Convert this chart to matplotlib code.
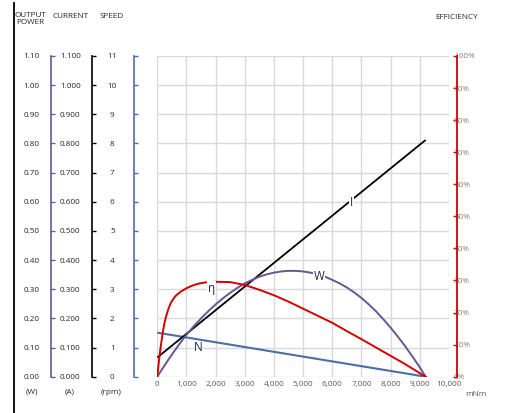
import matplotlib
matplotlib.use("Agg")
import matplotlib.pyplot as plt
from matplotlib.lines import Line2D
from matplotlib.ticker import FuncFormatter, MultipleLocator

plt.rcParams['font.family'] = ['Open Sans', 'DejaVu Sans']

# ---------------- data ----------------
power_torque = [0, 250, 500, 750, 1000, 1250, 1500, 1750, 2000, 2250, 2500, 2750,
                3000, 3250, 3500, 3750, 4000, 4250, 4500, 4750, 5000, 5250, 5500,
                5750, 6000, 6250, 6500, 6750, 7000, 7250, 7500, 7750, 8000, 8250,
                8500, 8750, 9000, 9200]
power_w = [0, 0.039, 0.076, 0.111, 0.144, 0.173, 0.200, 0.225, 0.248, 0.269, 0.288, 0.305,
           0.320, 0.332, 0.343, 0.351, 0.357, 0.361, 0.363, 0.363, 0.361, 0.357, 0.351,
           0.343, 0.332, 0.320, 0.306, 0.289, 0.270, 0.248, 0.224, 0.197, 0.168, 0.137,
           0.104, 0.069, 0.032, 0]

eff_torque = [0, 25, 50, 75, 100, 150, 200, 250, 300, 375, 450, 550, 650, 800, 1000,
              1200, 1400, 1650, 2000, 2500, 3000, 3500, 4000, 4500, 5000, 5500, 6000,
              6500, 7000, 7500, 8000, 8500, 9000, 9200]
eff_pct = [0, 2.3, 4.4, 6.4, 8.2, 11.5, 14.5, 16.9, 18.8, 21.0, 22.8, 24.3, 25.4, 26.5, 27.6,
           28.4, 29.0, 29.4, 29.6, 29.5, 28.6, 27.1, 25.4, 23.4, 21.2, 19.0, 16.8,
           14.2, 11.7, 9.1, 6.5, 3.9, 1.1, 0]

current_torque = [0, 9200]
current_a = [0.066, 0.812]

speed_torque = [0, 9200]
speed_rpm = [1.51, 0.0]

x_ticks = [0, 1000, 2000, 3000, 4000, 5000, 6000, 7000, 8000, 9000, 10000]

# ---------------- style ----------------
C_BLUE = '#4a6fa3'
C_PURPLE = '#6b5591'
C_RED = '#d40000'
C_BLACK = '#000000'
TXT = '#262626'
FS = 5.9

W, H = 510, 413
def fx(px):
    return px / W
def fy(py):
    return 1 - py / H
def pt(px):
    return px * 0.72

fig = plt.figure(figsize=(5.10, 4.13), dpi=100)
x0, x1, ytop, ybot = 157.3, 449.0, 56.0, 376.7
ax = fig.add_axes([fx(x0), fy(ybot), (x1 - x0) / W, (ybot - ytop) / H])
ax_i = ax.twinx()
ax_p = ax.twinx()
ax_e = ax.twinx()

for a in (ax, ax_i, ax_p, ax_e):
    for s in a.spines.values():
        s.set_visible(False)

ax.set_xlim(0, 10000)
ax.set_xticks(x_ticks)
ax.xaxis.set_major_formatter(FuncFormatter(lambda v, p: f"{v:,.0f}"))
ax.tick_params(axis='x', length=0, pad=pt(4.5), labelsize=FS, labelcolor='#595959')
ax.grid(True, color='#d9d9d9', lw=1.0)
ax.set_axisbelow(True)

def left_axis(a, lo, hi, step, fmt, color, spine_px, label_center_px):
    a.set_ylim(lo, hi)
    a.yaxis.set_major_locator(MultipleLocator(step))
    a.yaxis.set_major_formatter(FuncFormatter(lambda v, p: fmt.format(v)))
    a.yaxis.tick_left()
    sp = a.spines['left']
    sp.set_visible(True)
    sp.set_color(color)
    sp.set_linewidth(1.2)
    sp.set_position(('outward', pt(x0 - spine_px)))
    a.tick_params(axis='y', which='major', direction='in', length=pt(3.5), width=1.0,
                  color=color, pad=pt(spine_px - label_center_px), labelsize=FS,
                  labelcolor=TXT, left=True, right=False, labelleft=True, labelright=False)
    for t in a.get_yticklabels():
        t.set_ha('center')

left_axis(ax, 0, 11, 1, "{:.0f}", C_BLUE, 133.5, 112.3)
left_axis(ax_i, 0, 1.1, 0.1, "{:.3f}", C_BLACK, 92.3, 70.3)
left_axis(ax_p, 0, 1.1, 0.1, "{:.2f}", C_PURPLE, 50.5, 31.7)

# efficiency axis on the right
ax_e.set_ylim(0, 100)
ax_e.yaxis.set_major_locator(MultipleLocator(10))
ax_e.yaxis.set_major_formatter(FuncFormatter(lambda v, p: f"{v:.0f}%"))
ax_e.yaxis.tick_right()
sp = ax_e.spines['right']
sp.set_visible(True)
sp.set_color(C_RED)
sp.set_linewidth(1.3)
sp.set_position(('outward', pt(456.7 - x1)))
ax_e.tick_params(axis='y', direction='in', length=pt(4), width=1.0, color=C_RED,
                 pad=pt(-2.7), labelsize=FS, labelcolor='#7f7f7f')

# ---------------- curves ----------------
ax.plot(speed_torque, speed_rpm, color=C_BLUE, lw=1.5, solid_capstyle='butt')
ax_i.plot(current_torque, current_a, color=C_BLACK, lw=1.3, solid_capstyle='butt')
ax_p.plot(power_torque, power_w, color=C_PURPLE, lw=1.4)
ax_e.plot(eff_torque, eff_pct, color=C_RED, lw=1.4)

lab = dict(fontsize=8.5, color='#222a3a', ha='center', va='center',
           bbox=dict(facecolor='white', edgecolor='none', pad=0.6))
ax_i.text(6665, 0.598, 'I', **lab)
ax_p.text(5538, 0.342, 'W', **lab)
ax_e.text(1850, 27.6, 'η', **lab)
ax.text(1395, 1.00, 'N', fontsize=8.5, color='#222a3a', ha='center', va='center')

# ---------------- frame line and headings ----------------
fig.add_artist(Line2D([fx(14), fx(14)], [fy(3), fy(413)], transform=fig.transFigure,
                      color='black', lw=1.3))

fig.text(fx(30.5), fy(19), 'OUTPUT\nPOWER', ha='center', va='center', fontsize=FS,
         color=TXT, linespacing=1.05)
fig.text(fx(71), fy(16.7), 'CURRENT', ha='center', va='center', fontsize=FS, color=TXT)
fig.text(fx(111.7), fy(16.7), 'SPEED', ha='center', va='center', fontsize=FS, color=TXT)
fig.text(fx(457), fy(17.3), 'EFFICIENCY', ha='center', va='center', fontsize=FS, color=TXT)
fig.text(fx(31.7), fy(392.3), '(W)', ha='center', va='center', fontsize=FS, color=TXT)
fig.text(fx(69.3), fy(392.3), '(A)', ha='center', va='center', fontsize=FS, color=TXT)
fig.text(fx(111), fy(392.3), '(rpm)', ha='center', va='center', fontsize=FS, color=TXT)
fig.text(fx(475.5), fy(394.3), 'mNm', ha='center', va='center', fontsize=FS, color='#595959')

fig.savefig('out.png', dpi=100)
